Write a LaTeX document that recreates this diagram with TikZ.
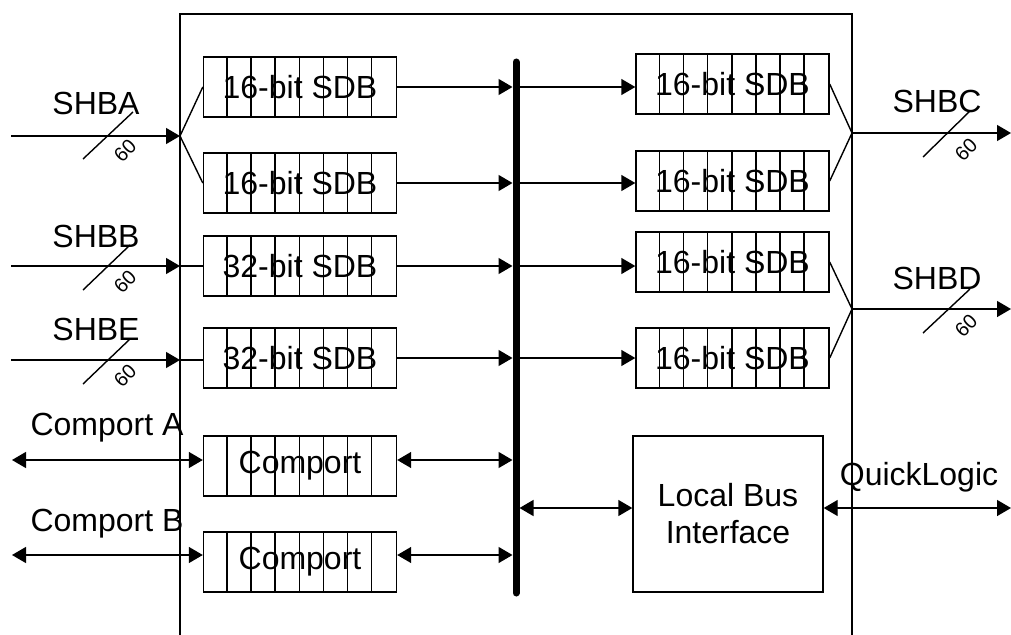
\documentclass[tikz,border=0pt]{standalone}
\usepackage{fontspec}
\setmainfont{Liberation Sans}
\usetikzlibrary{arrows.meta,calc}
\begin{document}
\begin{tikzpicture}[x=1pt,y=-1pt,
  ln/.style={line width=1.4pt},
  tip/.style={-{Triangle[length=14pt,width=16pt]}},
  dtip/.style={{Triangle[length=14pt,width=16pt]}-{Triangle[length=14pt,width=16pt]}},
  bigfont/.style={font=\fontsize{32}{37}\selectfont},
  sdb/.style={draw,line width=1.4pt,minimum width=193pt,minimum height=60pt,inner sep=0pt,bigfont},
  lbl/.style={bigfont,inner sep=0pt},
  num/.style={font=\fontsize{20}{23}\selectfont,rotate=45,inner sep=0pt},
]
\useasboundingbox (0,0) rectangle (1011,634);
\clip (0,0) rectangle (1011,634);
% outer chip outline
\draw[ln] (180,650) -- (180,14) -- (852,14) -- (852,650);
% buffers
\node[sdb] (L1) at (300,87) {16-bit SDB};
\node[sdb] (L2) at (300,183) {16-bit SDB};
\node[sdb] (L3) at (300,266) {32-bit SDB};
\node[sdb] (L4) at (300,358) {32-bit SDB};
\node[sdb] (CA) at (300,466) {Comport};
\node[sdb] (CB) at (300,562) {Comport};
\node[sdb] (R1) at (732.5,84) {16-bit SDB};
\node[sdb] (R2) at (732.5,181) {16-bit SDB};
\node[sdb] (R3) at (732.5,262) {16-bit SDB};
\node[sdb] (R4) at (732.5,358) {16-bit SDB};
\foreach \b in {L1,L2,L3,L4,CA,CB,R1,R2,R3,R4}{
  \foreach \i in {1,...,7}{
    \draw[ln] ($(\b.south west)+(\i*24.125,0)$) -- ($(\b.north west)+(\i*24.125,0)$);
  }
}
\node[draw,ln,minimum width=190pt,minimum height=156pt,align=center,bigfont,inner sep=0pt] (LB) at (728,514) {Local Bus\\[0pt]Interface};
% bus
\coordinate (bt) at (516,62);
\coordinate (bb) at (516,593);
\draw[line width=7pt,line cap=round] (bt) -- (bb);
% buffers to bus and bus to buffers
\foreach \l/\r in {L1/R1,L2/R2,L3/R3,L4/R4}{
  \draw[ln,tip,shorten >=3.5pt] (\l.east) -- (\l.east -| bt);
  \draw[ln,tip,shorten <=3.5pt] (\l.east -| bt) -- (\r.west |- \l.east);
}
% comports
\coordinate (ya) at (12,460);
\coordinate (yb) at (12,555);
\draw[ln,dtip] (ya) -- (CA.west |- ya);
\draw[ln,dtip] (yb) -- (CB.west |- yb);
\draw[ln,dtip,shorten >=3.5pt] (CA.east |- ya) -- (bt |- ya);
\draw[ln,dtip,shorten >=3.5pt] (CB.east |- yb) -- (bt |- yb);
\node[lbl] (tCA) at (107,428) {Comport A};
\node[lbl] (tCB) at (107,524) {Comport B};
% local bus
\coordinate (yl) at (1011,508);
\draw[ln,dtip,shorten <=3.5pt] (bt |- yl) -- (LB.west |- yl);
\draw[ln,dtip] (LB.east |- yl) -- (yl);
\node[lbl] (tQL) at (919,477) {QuickLogic};
% SHBA
\coordinate (a0) at (11,136);
\coordinate (a1) at (180,136);
\draw[ln,tip] (a0) -- (a1);
\draw[ln] (L1.west) -- (a1) -- (L2.west);
\draw[ln] (83,159) -- (133,112);
\node[num] (nA) at (125,151) {60};
\node[lbl] (tA) at (96,103) {SHBA};
% SHBB
\coordinate (b0) at (11,266);
\coordinate (b1) at (180,266);
\draw[ln,tip] (b0) -- (b1);
\draw[ln] (b1) -- (L3.west |- b1);
\draw[ln] (83,290) -- (130,245);
\node[num] (nB) at (125,282) {60};
\node[lbl] (tB) at (96,236) {SHBB};
% SHBE
\coordinate (e0) at (11,360);
\coordinate (e1) at (180,360);
\draw[ln,tip] (e0) -- (e1);
\draw[ln] (e1) -- (L4.west |- e1);
\draw[ln] (83,384) -- (130,339);
\node[num] (nE) at (125,376) {60};
\node[lbl] (tE) at (96,329) {SHBE};
% SHBC
\coordinate (c1) at (852,133);
\coordinate (c0) at (1011,133);
\draw[ln] (R1.east) -- (c1) -- (R2.east);
\draw[ln,tip] (c1) -- (c0);
\draw[ln] (923,157) -- (970,111);
\node[num] (nC) at (966,150) {60};
\node[lbl] (tC) at (937,101) {SHBC};
% SHBD
\coordinate (d1) at (852,309);
\coordinate (d0) at (1011,309);
\draw[ln] (R3.east) -- (d1) -- (R4.east);
\draw[ln,tip] (d1) -- (d0);
\draw[ln] (923,333) -- (970,289);
\node[num] (nD) at (966,326) {60};
\node[lbl] (tD) at (937,278) {SHBD};
\end{tikzpicture}
\end{document}
